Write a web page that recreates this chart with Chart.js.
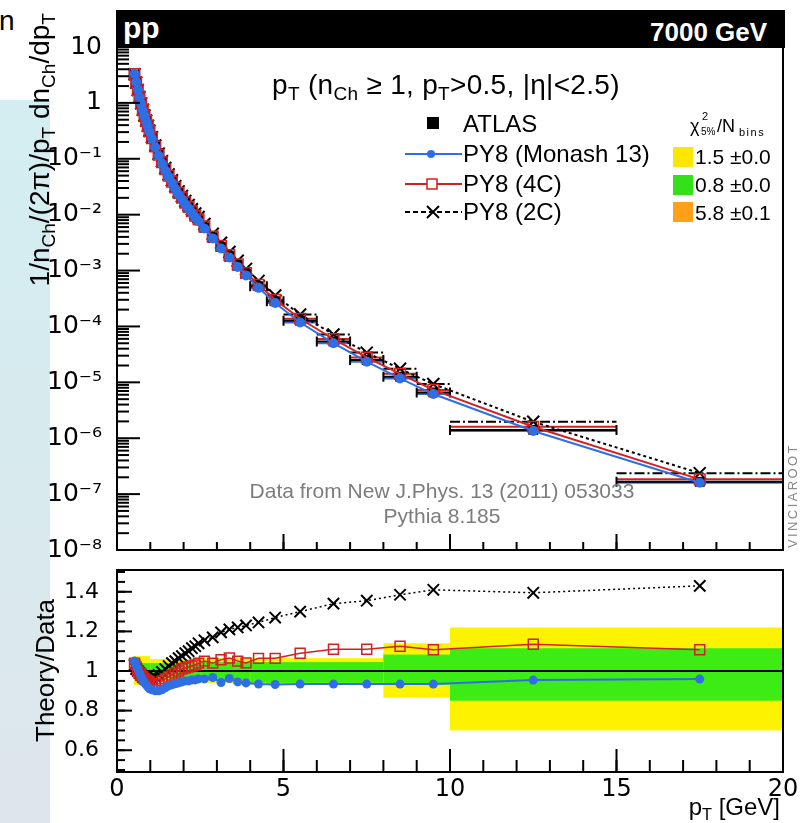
<!DOCTYPE html>
<html>
<head>
<meta charset="utf-8">
<script src="https://cdn.jsdelivr.net/npm/chart.js@4.4.0/dist/chart.umd.min.js"></script>
<style>
  body { margin: 0; width: 806px; height: 823px; overflow: hidden; position: relative; background: #fff;
         font-family: "Liberation Sans", Arial, sans-serif; color: #000; }
  .abs { position: absolute; white-space: nowrap; }
  canvas { position: absolute; left: 0; }
  #side { left: 0; top: 100px; width: 50px; height: 723px; background: linear-gradient(#d3eef2, #dde6ea); }
  #frag { left: -1px; top: 7px; font-size: 28px; line-height: 28px; }
  #header { left: 116px; top: 10px; width: 669px; height: 38px; background: #000; }
  .hd { color: #fff; font-weight: bold; }
  sub { font-size: 0.68em; vertical-align: baseline; position: relative; top: 0.3em; }
  .rot { transform-origin: 0 0; transform: rotate(-90deg); }
  .leg { font-size: 24px; line-height: 24px; }
  .chi { font-size: 21px; line-height: 21px; }
  .box { position: absolute; width: 20px; height: 20px; }
  .note { color: #7c7c7c; font-size: 21px; line-height: 21px; text-align: center; width: 500px; left: 192px; }
</style>
</head>
<body>
<div class="abs" id="side"></div>
<div class="abs" id="frag">n</div>

<canvas id="topChart" width="806" height="575" style="top:0"></canvas>
<canvas id="ratioChart" width="806" height="263" style="top:560px"></canvas>

<div class="abs" id="header"></div>
<div class="abs hd" style="left:123px;top:13px;font-size:30px;line-height:30px;">pp</div>
<div class="abs hd" style="left:650px;top:19px;font-size:26px;line-height:26px;">7000 GeV</div>

<div class="abs" style="left:272px;top:71px;font-size:28px;line-height:28px;letter-spacing:0.3px;">p<sub>T</sub> (n<sub>Ch</sub> ≥ 1, p<sub>T</sub>&gt;0.5, |η|&lt;2.5)</div>

<!-- legend -->
<svg class="abs" style="left:0;top:0" width="806" height="240">
  <rect x="427" y="117" width="12" height="12" fill="#000"/>
  <line x1="405" y1="154" x2="462" y2="154" stroke="#2f6fe6" stroke-width="2"/>
  <circle cx="431" cy="154" r="4" fill="#2f6fe6"/>
  <line x1="405" y1="184" x2="462" y2="184" stroke="#d42020" stroke-width="2"/>
  <rect x="427" y="179" width="10" height="10" fill="#fff" stroke="#d42020" stroke-width="1.5"/>
  <line x1="405" y1="212" x2="462" y2="212" stroke="#000" stroke-width="2" stroke-dasharray="5,3"/>
  <path d="M427 206 L439 218 M439 206 L427 218" stroke="#000" stroke-width="2"/>
</svg>
<div class="abs leg" style="left:463px;top:112px;">ATLAS</div>
<div class="abs leg" style="left:463px;top:142px;">PY8 (Monash 13)</div>
<div class="abs leg" style="left:463px;top:172px;">PY8 (4C)</div>
<div class="abs leg" style="left:463px;top:200px;">PY8 (2C)</div>

<div class="abs" style="left:690px;top:117px;font-size:18px;line-height:18px;">χ</div>
<div class="abs" style="left:702px;top:111px;font-size:11px;line-height:11px;">2</div>
<div class="abs" style="left:701px;top:127px;font-size:10px;line-height:10px;">5%</div>
<div class="abs" style="left:717px;top:117px;font-size:18px;line-height:18px;">/N</div>
<div class="abs" style="left:739px;top:127px;font-size:11px;line-height:11px;letter-spacing:1.5px;">bins</div>
<div class="box" style="left:673px;top:147px;background:#ffe600;"></div>
<div class="box" style="left:673px;top:175px;background:#33e01a;"></div>
<div class="box" style="left:673px;top:202px;background:#ff9f1a;"></div>
<div class="abs chi" style="left:695px;top:146px;">1.5 ±0.0</div>
<div class="abs chi" style="left:695px;top:174px;">0.8 ±0.0</div>
<div class="abs chi" style="left:695px;top:202px;">5.8 ±0.1</div>

<div class="abs note" style="top:480px;">Data from New J.Phys. 13 (2011) 053033</div>
<div class="abs note" style="top:505px;">Pythia 8.185</div>
<div class="abs rot" style="left:786px;top:548px;font-size:13px;line-height:13px;letter-spacing:2.4px;color:#8a8a8a;">VINCIAROOT</div>

<div class="abs rot" style="left:26px;top:300px;width:287px;text-align:right;font-size:28px;line-height:28px;">1/n<sub>Ch</sub>/(2π)/p<sub>T</sub> dn<sub>Ch</sub>/dp<sub>T</sub></div>
<div class="abs rot" style="left:32px;top:742px;font-size:26px;line-height:26px;">Theory/Data</div>
<div class="abs" style="right:26px;top:795px;font-size:24px;line-height:24px;">p<sub>T</sub> [GeV]</div>

<script>
// pT bin edges (GeV)
const xEdges = [0.5, 0.55, 0.6, 0.65, 0.7, 0.75, 0.8, 0.85, 0.9, 0.95,
  1.0, 1.1, 1.2, 1.3, 1.4, 1.5, 1.6, 1.7, 1.8, 1.9, 2.0, 2.1, 2.2, 2.3, 2.4,
  2.5, 2.75, 3.0, 3.25, 3.5, 3.75, 4.0, 4.5, 5.0, 6.0, 7.0, 8.0, 9.0, 10.0, 15.0, 20.0];

// ATLAS 1/nCh/(2pi)/pT dnCh/dpT
const atlasY = [3.16, 2.29, 1.70, 1.29, 1.00, 0.776, 0.617, 0.501, 0.407, 0.331,
  0.251, 0.178, 0.126, 0.0912, 0.0676, 0.0513, 0.0398, 0.0309, 0.0245, 0.0200,
  0.0162, 0.0135, 0.0112, 0.00933, 0.00794,
  0.00589, 0.00389, 0.00263, 0.00178, 0.00123, 0.000871,
  0.000525, 0.000282,
  0.000126, 5.37e-5, 2.51e-5, 1.26e-5, 6.61e-6,
  1.41e-6, 1.66e-7];

// Theory / Data
const ratioMonash = [1.05, 1.03, 1.01, 0.99, 0.97, 0.955, 0.94, 0.93, 0.92, 0.91,
  0.905, 0.90, 0.90, 0.905, 0.915, 0.925, 0.93, 0.935, 0.94, 0.945,
  0.95, 0.95, 0.955, 0.955, 0.96,
  0.96, 0.967, 0.942, 0.962, 0.945, 0.94,
  0.934, 0.932,
  0.934, 0.934, 0.934, 0.934, 0.934,
  0.954, 0.959];
const ratio4C = [1.04, 1.02, 1.00, 0.99, 0.98, 0.97, 0.96, 0.955, 0.95, 0.945,
  0.935, 0.93, 0.935, 0.95, 0.96, 0.97, 0.98, 0.99, 1.0, 1.01,
  1.015, 1.02, 1.025, 1.03, 1.04,
  1.05, 1.04, 1.057, 1.066, 1.05, 1.041,
  1.064, 1.064,
  1.09, 1.11, 1.11, 1.125, 1.107,
  1.135, 1.107];
const ratio2C = [1.03, 1.01, 1.00, 0.99, 0.98, 0.97, 0.965, 0.96, 0.96, 0.96,
  0.965, 0.97, 0.98, 0.995, 1.01, 1.025, 1.04, 1.05, 1.065, 1.075,
  1.09, 1.10, 1.115, 1.125, 1.14,
  1.155, 1.17, 1.195, 1.21, 1.22, 1.23,
  1.245, 1.27,
  1.30, 1.34, 1.355, 1.385, 1.41,
  1.395, 1.43];

// data uncertainty bands in the ratio panel
const bandFrom = [0.5, 1.0, 2.5, 4.0, 8.0, 10.0];
const bandTo = [1.0, 2.5, 4.0, 8.0, 10.0, 20.0];
const yellowLo = [0.93, 0.945, 0.94, 0.93, 0.865, 0.70];
const yellowHi = [1.075, 1.06, 1.065, 1.065, 1.14, 1.22];
const greenLo = [0.97, 0.965, 0.955, 0.94, 0.93, 0.85];
const greenHi = [1.04, 1.04, 1.045, 1.045, 1.083, 1.115];

// axis ticks
const yTopTicks = [1e-8, 1e-7, 1e-6, 1e-5, 1e-4, 1e-3, 1e-2, 1e-1, 1, 10];
const yTopLabels = ['10⁻⁸', '10⁻⁷', '10⁻⁶', '10⁻⁵', '10⁻⁴', '10⁻³', '10⁻²', '10⁻¹', '1', '10'];
const yRatioTicks = [0.6, 0.8, 1, 1.2, 1.4];
const yRatioLabels = ['0.6', '0.8', '1', '1.2', '1.4'];
const xTicks = [0, 5, 10, 15, 20];
const xTickLabels = ['0', '5', '10', '15', '20'];

const BLUE = '#2f6fe6', RED = '#d42020';

const binLo = xEdges.slice(0, -1);
const binHi = xEdges.slice(1);
const binMid = binLo.map((lo, i) => (lo + binHi[i]) / 2);
const pts = vals => vals.map((v, i) => ({ x: binMid[i], y: v }));
// MC spectra in the upper panel = data x (theory/data)
const mc = r => atlasY.map((v, i) => v * r[i]);

// minor tick positions
const logMinor = [];
for (let e = -8; e <= 0; e++) for (let k = 2; k <= 9; k++) logMinor.push(k * Math.pow(10, e));
const xMinor = [];
for (let v = 1; v < 20; v++) xMinor.push(v);
const rMinor = [];
for (let v = 0.5; v <= 1.5001; v += 0.05) rMinor.push(Math.round(v * 100) / 100);

// ROOT-like frame, inward ticks, bands and bin-width bars
const rootStyle = {
  id: 'rootStyle',
  beforeDatasetsDraw(chart, args, o) {
    const { ctx, chartArea: a } = chart;
    const x = chart.scales.x, y = chart.scales.y;
    ctx.save();
    ctx.beginPath();
    ctx.rect(a.left, a.top, a.right - a.left, a.bottom - a.top);
    ctx.clip();
    (o.bands || []).forEach(b => {
      ctx.fillStyle = b.color;
      b.from.forEach((x0, i) => {
        const px0 = x.getPixelForValue(x0), px1 = x.getPixelForValue(b.to[i]);
        const py0 = y.getPixelForValue(b.hi[i]), py1 = y.getPixelForValue(b.lo[i]);
        ctx.fillRect(px0, py0, px1 - px0, py1 - py0);
      });
    });
    if (o.refLine !== undefined) {
      const py = y.getPixelForValue(o.refLine);
      ctx.strokeStyle = '#000';
      ctx.lineWidth = 2;
      ctx.beginPath(); ctx.moveTo(a.left, py); ctx.lineTo(a.right, py); ctx.stroke();
    }
    chart.data.datasets.forEach(ds => {
      if (!ds.binLo) return;
      ctx.strokeStyle = ds.barColor;
      ctx.lineWidth = ds.barWidth || 2;
      ctx.setLineDash(ds.barDash || []);
      ds.data.forEach((p, i) => {
        const py = y.getPixelForValue(p.y);
        const px0 = x.getPixelForValue(ds.binLo[i]), px1 = x.getPixelForValue(ds.binHi[i]);
        ctx.beginPath(); ctx.moveTo(px0, py); ctx.lineTo(px1, py); ctx.stroke();
        if (ds.barCap) {
          ctx.beginPath();
          ctx.moveTo(px0, py - ds.barCap); ctx.lineTo(px0, py + ds.barCap);
          ctx.moveTo(px1, py - ds.barCap); ctx.lineTo(px1, py + ds.barCap);
          ctx.stroke();
        }
      });
    });
    ctx.restore();
  },
  afterDatasetsDraw(chart, args, o) {
    const { ctx, chartArea: a } = chart;
    const x = chart.scales.x, y = chart.scales.y;
    ctx.save();
    ctx.strokeStyle = '#000';
    ctx.lineWidth = 2;
    const left = (vals, len) => vals.forEach(v => {
      const py = y.getPixelForValue(v);
      if (py < a.top - 1 || py > a.bottom + 1) return;
      ctx.beginPath(); ctx.moveTo(a.left, py); ctx.lineTo(a.left + len, py); ctx.stroke();
    });
    const bottom = (vals, len) => vals.forEach(v => {
      const px = x.getPixelForValue(v);
      ctx.beginPath(); ctx.moveTo(px, a.bottom); ctx.lineTo(px, a.bottom - len); ctx.stroke();
    });
    left(o.yMinor, o.yMinorLen);
    left(o.yMajor, o.yMajorLen);
    bottom(o.xMinor, o.xMinorLen);
    bottom(o.xMajor, o.xMajorLen);
    ctx.strokeRect(a.left, a.top, a.right - a.left, a.bottom - a.top);
    ctx.restore();
  }
};

const fixTicks = list => scale => { scale.ticks = list.map(v => ({ value: v })); };
const fixWidth = w => s => { s.width = w; s.paddingTop = 0; s.paddingBottom = 0; };
const fixHeight = h => s => { s.height = h; s.paddingLeft = 0; s.paddingRight = 0; };

// upper panel
new Chart(document.getElementById('topChart'), {
  type: 'line',
  data: {
    datasets: [
      {
        label: 'PY8 (Monash 13)', data: pts(mc(ratioMonash)),
        borderColor: BLUE, borderWidth: 2, pointStyle: 'circle', pointRadius: 5,
        pointBackgroundColor: BLUE, pointBorderWidth: 0,
        binLo, binHi, barColor: BLUE, barWidth: 2
      },
      {
        label: 'PY8 (4C)', data: pts(mc(ratio4C)),
        borderColor: RED, borderWidth: 2, pointStyle: 'rect', pointRadius: 7.5,
        pointBackgroundColor: 'rgba(0,0,0,0)', pointBorderColor: RED, pointBorderWidth: 1.5,
        binLo, binHi, barColor: RED, barWidth: 2
      },
      {
        label: 'PY8 (2C)', data: pts(mc(ratio2C)),
        borderColor: '#000', borderWidth: 2, borderDash: [3, 3], pointStyle: 'crossRot', pointRadius: 8.5,
        pointBorderColor: '#000', pointBorderWidth: 2,
        binLo, binHi, barColor: '#000', barWidth: 2, barDash: [10, 3, 2, 3]
      },
      {
        label: 'ATLAS', data: pts(atlasY), showLine: false,
        pointStyle: 'rect', pointRadius: 7, pointBackgroundColor: '#000', pointBorderWidth: 0,
        binLo, binHi, barColor: '#000', barWidth: 2, barCap: 5
      }
    ]
  },
  options: {
    responsive: false,
    animation: false,
    events: [],
    layout: { padding: { left: 0, top: 47, right: 23, bottom: 25 } },
    scales: {
      x: { type: 'linear', min: 0, max: 20, display: false },
      y: {
        type: 'logarithmic', min: 1e-8, max: 10,
        afterBuildTicks: fixTicks(yTopTicks),
        afterFit: fixWidth(117),
        grid: { display: false }, border: { display: false },
        ticks: {
          autoSkip: false, padding: 7, color: '#000',
          font: { family: 'DejaVu Sans', size: 25 },
          callback: (v, i) => yTopLabels[i]
        }
      }
    },
    plugins: {
      legend: { display: false },
      tooltip: { enabled: false },
      rootStyle: {
        yMajor: yTopTicks, yMajorLen: 23, yMinor: logMinor, yMinorLen: 12,
        xMajor: xTicks, xMajorLen: 16, xMinor: xMinor, xMinorLen: 8
      }
    }
  },
  plugins: [rootStyle]
});

// ratio panel
new Chart(document.getElementById('ratioChart'), {
  type: 'line',
  data: {
    datasets: [
      {
        label: 'PY8 (Monash 13)', data: pts(ratioMonash),
        borderColor: BLUE, borderWidth: 2, pointStyle: 'circle', pointRadius: 4.5,
        pointBackgroundColor: BLUE, pointBorderWidth: 0
      },
      {
        label: 'PY8 (4C)', data: pts(ratio4C),
        borderColor: RED, borderWidth: 1.5, pointStyle: 'rect', pointRadius: 7,
        pointBackgroundColor: 'rgba(0,0,0,0)', pointBorderColor: RED, pointBorderWidth: 1.5
      },
      {
        label: 'PY8 (2C)', data: pts(ratio2C),
        borderColor: '#000', borderWidth: 1.5, borderDash: [2, 3], pointStyle: 'crossRot', pointRadius: 8,
        pointBorderColor: '#000', pointBorderWidth: 2
      }
    ]
  },
  options: {
    responsive: false,
    animation: false,
    events: [],
    layout: { padding: { left: 0, top: 8, right: 23, bottom: 0 } },
    scales: {
      x: {
        type: 'linear', min: 0, max: 20,
        afterBuildTicks: fixTicks(xTicks),
        afterFit: fixHeight(51),
        grid: { display: false }, border: { display: false },
        ticks: {
          autoSkip: false, padding: -5, maxRotation: 0, color: '#000',
          font: { family: 'DejaVu Sans', size: 24 },
          callback: (v, i) => xTickLabels[i]
        }
      },
      y: {
        type: 'linear', min: 0.49, max: 1.51,
        afterBuildTicks: fixTicks(yRatioTicks),
        afterFit: fixWidth(117),
        grid: { display: false }, border: { display: false },
        ticks: {
          autoSkip: false, padding: 10, color: '#000',
          font: { family: 'DejaVu Sans', size: 22 },
          callback: (v, i) => yRatioLabels[i]
        }
      }
    },
    plugins: {
      legend: { display: false },
      tooltip: { enabled: false },
      rootStyle: {
        bands: [
          { color: '#fdf300', from: bandFrom, to: bandTo, lo: yellowLo, hi: yellowHi },
          { color: '#3dec14', from: bandFrom, to: bandTo, lo: greenLo, hi: greenHi }
        ],
        refLine: 1,
        yMajor: yRatioTicks, yMajorLen: 15, yMinor: rMinor, yMinorLen: 8,
        xMajor: xTicks, xMajorLen: 23, xMinor: xMinor, xMinorLen: 12
      }
    }
  },
  plugins: [rootStyle]
});
</script>
</body>
</html>
